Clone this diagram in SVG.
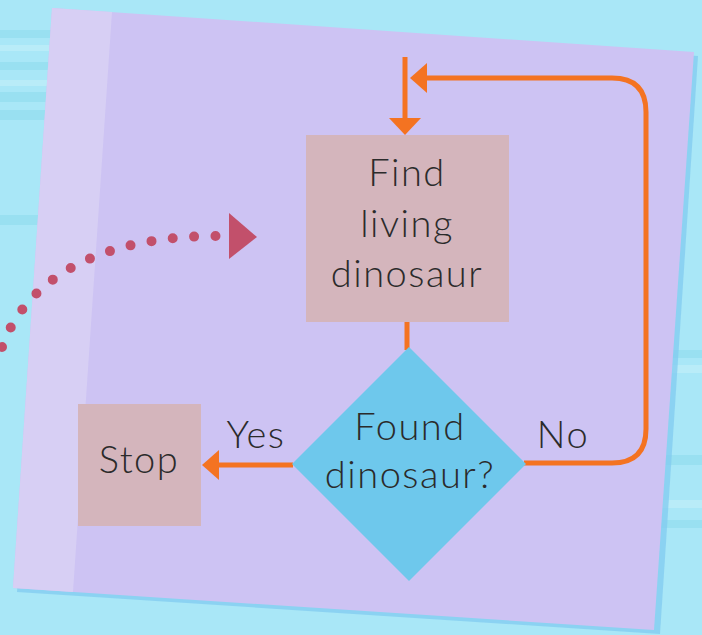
<svg xmlns="http://www.w3.org/2000/svg" width="702" height="635" viewBox="0 0 702 635">
<style>
.t{font-family:Lato,"Noto Sans","Liberation Sans",sans-serif;font-size:38px;font-weight:300;fill:#2b2b2b;text-anchor:middle;letter-spacing:1.5px}
.box{fill:#d4b5bc}
.ln{fill:none;stroke:#f47321;stroke-width:5}
.head{fill:#f47321}
</style>
<defs>
<marker id="ah" viewBox="0 0 18 30" refX="18" refY="15" markerWidth="18" markerHeight="30" markerUnits="userSpaceOnUse" orient="auto">
<path d="M0 0 L18 15 L0 30 Z" fill="#f47321"/>
</marker>
<marker id="pk" viewBox="0 0 28 46" refX="28" refY="23" markerWidth="28" markerHeight="46" markerUnits="userSpaceOnUse" orient="auto">
<path d="M0 0 L28 23 L0 46 Z" fill="#c2506b"/>
</marker>
</defs>
<rect x="0" y="0" width="702" height="635" fill="#a9e7f7"/>
<g id="background-stripes" opacity="0.6">
<rect x="0" y="30" width="60" height="8" fill="#8fdcee"/>
<rect x="0" y="45" width="60" height="6" fill="#c4f0fa"/>
<rect x="0" y="62" width="60" height="8" fill="#8fdcee"/>
<rect x="0" y="80" width="60" height="6" fill="#c4f0fa"/>
<rect x="0" y="92" width="60" height="10" fill="#8fdcee"/>
<rect x="0" y="110" width="60" height="10" fill="#8fdcee"/>
<rect x="0" y="215" width="60" height="10" fill="#8fdcee"/>
<rect x="650" y="350" width="52" height="8" fill="#8fdcee"/>
<rect x="650" y="365" width="52" height="8" fill="#c4f0fa"/>
<rect x="650" y="455" width="52" height="10" fill="#8fdcee"/>
<rect x="650" y="500" width="52" height="8" fill="#c4f0fa"/>
<rect x="650" y="520" width="52" height="8" fill="#8fdcee"/>
</g>
<g id="paper">
<polygon points="56,12 698,56 660,634 17,592" fill="#7fc9ef" opacity="0.7"/>
<polygon points="52,8 694,52 654,630 13,588" fill="#cdc3f3"/>
<polygon points="52,8 112,12 73,592 13,588" fill="#d7cff4"/>
</g>
<g id="connectors">
<path class="ln" d="M405 57 L405 118"/>
<path class="head" d="M389 118 L421 118 L405 135 Z"/>
<path class="ln" d="M407 322 L407 350"/>
<path class="ln" d="M293 465 L219 465"/>
<path class="head" d="M219 450 L219 480 L202 465 Z"/>
<path class="ln" d="M524 463 L612 463 Q646 463 646 429 L646 112 Q646 78 612 78 L427 78"/>
<path class="head" d="M427 63 L427 93 L410 78 Z"/>
<path d="M2 347 C28 275 105 236 218 236" fill="none" stroke="#c2506b" stroke-width="10" stroke-linecap="round" stroke-dasharray="0 21.4"/>
<path d="M229 213 L257 237 L229 259 Z" fill="#c2506b"/>
</g>
<g id="find">
<rect class="box" x="306" y="135" width="203" height="187"/>
<text class="t" x="407" y="186">Find</text>
<text class="t" x="407" y="237">living</text>
<text class="t" x="407" y="287">dinosaur</text>
</g>
<g id="decision">
<polygon points="409,347 526,464 409,581 292,464" fill="#6ec8ec"/>
<text class="t" x="410" y="440">Found</text>
<text class="t" x="410" y="488">dinosaur?</text>
</g>
<g id="stop">
<rect class="box" x="78" y="404" width="123" height="122"/>
<text class="t" x="139" y="473">Stop</text>
</g>
<g id="labels">
<text class="t" x="256" y="448">Yes</text>
<text class="t" x="563" y="448">No</text>
</g>
</svg>
